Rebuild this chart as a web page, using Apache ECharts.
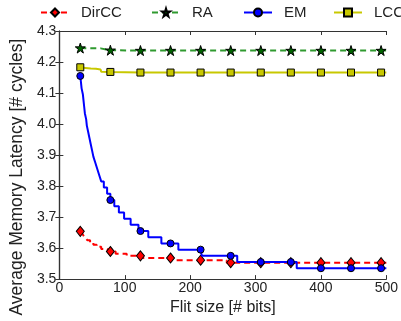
<!DOCTYPE html>
<html>
<head>
<meta charset="utf-8">
<script src="https://cdn.jsdelivr.net/npm/echarts@6/dist/echarts.min.js"></script>
<style>
html,body{margin:0;padding:0;background:#fff;}
#c{width:401px;height:321px;}
</style>
</head>
<body>
<div id="c"></div>
<script>
// ---- data ----
var markX = [32, 78, 124, 170, 216, 262, 308, 354, 400, 446, 492];

var dirccX = [32,35,37,40,43,47,52,57,64,74,78,86,103,124,128,170,171,216,256,262,308,354,400,446,492,500];
var dirccY = [3.654,3.647,3.640,3.633,3.625,3.618,3.611,3.604,3.597,3.589,3.589,3.582,3.575,3.575,3.568,3.568,3.561,3.561,3.553,3.553,3.553,3.553,3.553,3.553,3.553,3.553];

var raX = [32,63,64,78,124,170,216,262,308,354,400,446,492,500];
var raY = [4.245,4.244,4.238,4.238,4.237,4.237,4.237,4.237,4.237,4.237,4.237,4.237,4.237,4.237];

var emX = [32,33,34,36,37,38,39,41,42,44,46,48,50,52,55,58,61,64,68,73,78,84,91,99,109,121,124,136,156,170,182,216,218,262,272,308,354,363,400,446,492,500];
var emY = [4.155,4.135,4.115,4.095,4.075,4.055,4.035,4.015,3.995,3.975,3.955,3.935,3.915,3.895,3.875,3.855,3.835,3.815,3.795,3.775,3.755,3.735,3.715,3.695,3.675,3.655,3.655,3.635,3.615,3.615,3.595,3.595,3.575,3.575,3.555,3.555,3.555,3.535,3.535,3.535,3.535,3.535];

var lccX = [32,40,48,56,63,64,78,124,170,216,262,308,354,400,446,492,500];
var lccY = [4.183,4.181,4.179,4.178,4.176,4.169,4.168,4.166,4.166,4.166,4.166,4.166,4.166,4.166,4.166,4.166,4.166];

var seriesNames = ['DirCC', 'RA', 'EM', 'LCC'];
var xTicks = {min: 0, max: 500, interval: 100};
var yTicks = {min: 3.5, max: 4.3, interval: 0.1};

var STAR = 'path://M50,0 L61.8,36.2 L100,36.2 L69.1,58.8 L80.9,95.1 L50,72.7 L19.1,95.1 L30.9,58.8 L0,36.2 L38.2,36.2 Z';

function pts(xs, ys, sym) {
  return xs.map(function (x, i) {
    return {value: [x, ys[i]], symbol: markX.indexOf(x) >= 0 ? sym : 'none'};
  });
}

var FONT = 'Liberation Sans, Arial, sans-serif';
var axisCol = '#333';
var legendLeft = [40, 151, 243, 333];

function legendFor(i) {
  return {
    left: legendLeft[i], top: 5, width: 200, padding: 0,
    itemWidth: 28, itemHeight: 10,
    textStyle: {fontFamily: FONT, fontSize: 15, color: '#222', padding: [0, 0, 0, 7]},
    data: [seriesNames[i]]
  };
}

var chart = echarts.init(document.getElementById('c'), null, {renderer: 'canvas'});
chart.setOption({
  animation: false,
  backgroundColor: '#fff',
  textStyle: {fontFamily: FONT},
  legend: [legendFor(0), legendFor(1), legendFor(2), legendFor(3)],
  grid: {left: 53, right: 14, top: 31, bottom: 32, containLabel: false},
  xAxis: [{
    type: 'value', min: xTicks.min, max: xTicks.max, interval: xTicks.interval,
    name: 'Flit size [# bits]', nameLocation: 'middle', nameGap: 18,
    nameTextStyle: {fontFamily: FONT, fontSize: 16, color: '#222'},
    axisLine: {show: true, lineStyle: {color: axisCol, width: 1.2}},
    axisTick: {show: true, inside: true, length: 4, lineStyle: {color: axisCol}},
    axisLabel: {fontFamily: FONT, fontSize: 14, color: '#222', margin: 2},
    splitLine: {show: false}
  }, {
    type: 'value', position: 'top', min: xTicks.min, max: xTicks.max, interval: xTicks.interval,
    axisLine: {show: true, lineStyle: {color: axisCol, width: 1.2}},
    axisTick: {show: true, inside: true, length: 4, lineStyle: {color: axisCol}},
    axisLabel: {show: false}, splitLine: {show: false}
  }],
  yAxis: [{
    type: 'value', min: yTicks.min, max: yTicks.max, interval: yTicks.interval,
    name: 'Average Memory Latency [# cycles]', nameLocation: 'middle', nameGap: 27,
    nameTextStyle: {fontFamily: FONT, fontSize: 17.5, color: '#222', padding: [0, 44, 0, 0]},
    axisLine: {show: true, lineStyle: {color: axisCol, width: 1.2}},
    axisTick: {show: true, inside: true, length: 4, lineStyle: {color: axisCol}},
    axisLabel: {fontFamily: FONT, fontSize: 14, color: '#222', margin: 3,
      formatter: function (v) { return v.toFixed(1); }},
    splitLine: {show: false}
  }, {
    type: 'value', position: 'right', min: yTicks.min, max: yTicks.max, interval: yTicks.interval,
    axisLine: {show: true, lineStyle: {color: axisCol, width: 1.2}},
    axisTick: {show: true, inside: true, length: 4, lineStyle: {color: axisCol}},
    axisLabel: {show: false}, splitLine: {show: false}
  }],
  series: [{
    name: 'DirCC', type: 'line', step: 'end', showSymbol: true, showAllSymbol: true,
    symbol: 'diamond', symbolSize: [8, 10],
    lineStyle: {color: '#ff0000', width: 2, type: [6, 4]},
    itemStyle: {color: '#ff0000', borderColor: '#000', borderWidth: 1},
    data: pts(dirccX, dirccY, 'diamond'), z: 2
  }, {
    name: 'RA', type: 'line', showSymbol: true, showAllSymbol: true,
    symbol: STAR, symbolSize: 10,
    lineStyle: {color: '#2f9a2f', width: 2, type: [6, 4]},
    itemStyle: {color: '#006400', borderColor: '#000', borderWidth: 1},
    data: pts(raX, raY, STAR), z: 3
  }, {
    name: 'EM', type: 'line', step: 'end', showSymbol: true, showAllSymbol: true,
    symbol: 'circle', symbolSize: 7,
    lineStyle: {color: '#0000ff', width: 2},
    itemStyle: {color: '#0000ff', borderColor: '#000', borderWidth: 1},
    data: pts(emX, emY, 'circle'), z: 4
  }, {
    name: 'LCC', type: 'line', showSymbol: true, showAllSymbol: true,
    symbol: 'rect', symbolSize: 7,
    lineStyle: {color: '#c8c800', width: 2},
    itemStyle: {color: '#c8c800', borderColor: '#000', borderWidth: 1},
    data: pts(lccX, lccY, 'rect'), z: 5
  }]
});
</script>
</body>
</html>
